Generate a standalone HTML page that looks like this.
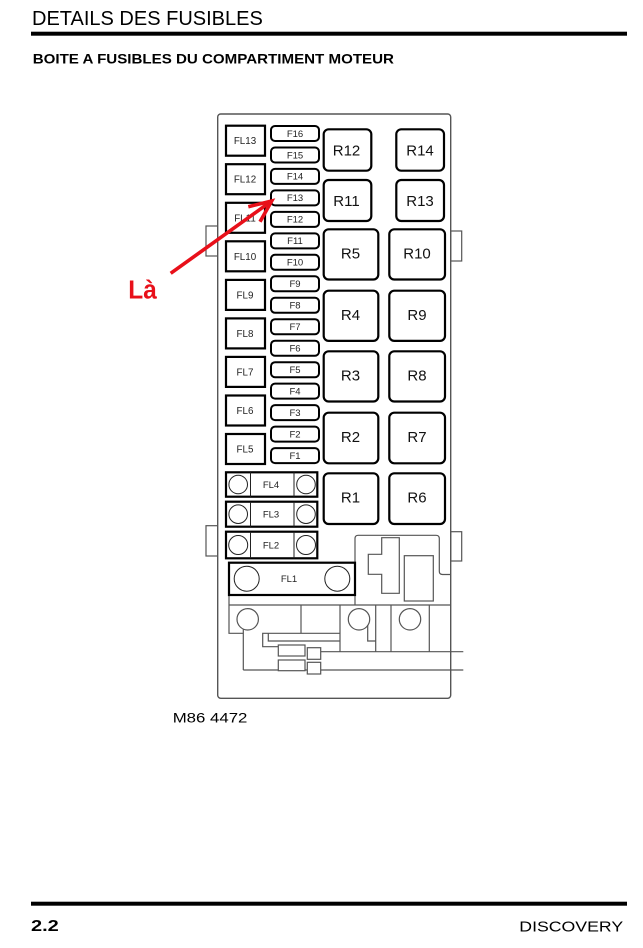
<!DOCTYPE html>
<html>
<head>
<meta charset="utf-8">
<style>
html,body{margin:0;padding:0;background:#fff;}
body{width:643px;height:948px;overflow:hidden;}
svg{display:block;}
text{font-family:"Liberation Sans",Arial,sans-serif;}
</style>
</head>
<body>
<svg width="643" height="948" viewBox="0 0 643 948" xmlns="http://www.w3.org/2000/svg">
<!-- Header -->
<text x="32" y="25" font-size="20" fill="#000">DETAILS DES FUSIBLES</text>
<rect x="31" y="31.7" width="596" height="4" fill="#000"/>
<text transform="translate(32.7,63.3) scale(1.08,1)" x="0" y="0" font-size="14" font-weight="bold" fill="#000">BOITE A FUSIBLES DU COMPARTIMENT MOTEUR</text>

<!-- Footer -->
<rect x="31" y="901.7" width="596" height="4" fill="#000"/>
<text transform="translate(31,931) scale(1.25,1)" x="0" y="0" font-size="16" font-weight="bold" fill="#000">2.2</text>
<text transform="translate(519.3,931.7) scale(1.18,1)" x="0" y="0" font-size="15" fill="#000">DISCOVERY</text>

<!-- Diagram caption -->
<text transform="translate(172.7,722.7) scale(1.2,1)" x="0" y="0" font-size="14" fill="#000">M86 4472</text>

<!-- Side tabs -->
<g fill="#fff" stroke="#555" stroke-width="1.2">
<rect x="206" y="226" width="11.7" height="30"/>
<rect x="206" y="525.7" width="11.7" height="30.3"/>
<rect x="450.7" y="231" width="11" height="30"/>
<rect x="450.7" y="531.7" width="11" height="29.3"/>
</g>

<!-- Outer box -->
<rect x="217.7" y="114" width="233" height="584.3" rx="3" fill="#fff" stroke="#555" stroke-width="1.4"/>

<!-- FL13..FL5 -->
<g fill="#fff" stroke="#000" stroke-width="2.2">
<rect x="226" y="125.7" width="39" height="30"/>
<rect x="226" y="164.2" width="39" height="30"/>
<rect x="226" y="202.8" width="39" height="30"/>
<rect x="226" y="241.3" width="39" height="30"/>
<rect x="226" y="279.9" width="39" height="30"/>
<rect x="226" y="318.4" width="39" height="30"/>
<rect x="226" y="356.9" width="39" height="30"/>
<rect x="226" y="395.5" width="39" height="30"/>
<rect x="226" y="434" width="39" height="30"/>
</g>
<g font-size="9.8" fill="#222" text-anchor="middle">
<text x="245" y="144.2">FL13</text>
<text x="245" y="182.7">FL12</text>
<text x="245" y="221.3">FL11</text>
<text x="245" y="259.8">FL10</text>
<text x="245" y="298.4">FL9</text>
<text x="245" y="336.9">FL8</text>
<text x="245" y="375.4">FL7</text>
<text x="245" y="414">FL6</text>
<text x="245" y="452.5">FL5</text>
</g>

<!-- F16..F1 -->
<g fill="#fff" stroke="#000" stroke-width="2">
<rect x="271" y="126" width="48" height="15" rx="4"/>
<rect x="271" y="147.5" width="48" height="15" rx="4"/>
<rect x="271" y="168.9" width="48" height="15" rx="4"/>
<rect x="271" y="190.4" width="48" height="15" rx="4"/>
<rect x="271" y="211.9" width="48" height="15" rx="4"/>
<rect x="271" y="233.4" width="48" height="15" rx="4"/>
<rect x="271" y="254.8" width="48" height="15" rx="4"/>
<rect x="271" y="276.3" width="48" height="15" rx="4"/>
<rect x="271" y="297.8" width="48" height="15" rx="4"/>
<rect x="271" y="319.2" width="48" height="15" rx="4"/>
<rect x="271" y="340.7" width="48" height="15" rx="4"/>
<rect x="271" y="362.2" width="48" height="15" rx="4"/>
<rect x="271" y="383.6" width="48" height="15" rx="4"/>
<rect x="271" y="405.1" width="48" height="15" rx="4"/>
<rect x="271" y="426.6" width="48" height="15" rx="4"/>
<rect x="271" y="448.1" width="48" height="15" rx="4"/>
</g>
<g font-size="9.5" fill="#222" text-anchor="middle">
<text x="295" y="136.8">F16</text>
<text x="295" y="158.3">F15</text>
<text x="295" y="179.7">F14</text>
<text x="295" y="201.2">F13</text>
<text x="295" y="222.7">F12</text>
<text x="295" y="244.2">F11</text>
<text x="295" y="265.6">F10</text>
<text x="295" y="287.1">F9</text>
<text x="295" y="308.6">F8</text>
<text x="295" y="330">F7</text>
<text x="295" y="351.5">F6</text>
<text x="295" y="373">F5</text>
<text x="295" y="394.4">F4</text>
<text x="295" y="415.9">F3</text>
<text x="295" y="437.4">F2</text>
<text x="295" y="458.9">F1</text>
</g>

<!-- Relays -->
<g fill="#fff" stroke="#000" stroke-width="2.2">
<rect x="323.7" y="129.3" width="47.6" height="41.4" rx="5"/>
<rect x="396.3" y="129.3" width="47.7" height="41.4" rx="5"/>
<rect x="323.7" y="180" width="47.6" height="41" rx="5"/>
<rect x="396.3" y="180" width="47.7" height="41" rx="5"/>
<rect x="323.7" y="229.3" width="54.6" height="50.2" rx="5"/>
<rect x="389.3" y="229.3" width="55.7" height="50.2" rx="5"/>
<rect x="323.7" y="290.7" width="54.6" height="50.2" rx="5"/>
<rect x="389.3" y="290.7" width="55.7" height="50.2" rx="5"/>
<rect x="323.7" y="351.3" width="54.6" height="50.2" rx="5"/>
<rect x="389.3" y="351.3" width="55.7" height="50.2" rx="5"/>
<rect x="323.7" y="412.7" width="54.6" height="50.6" rx="5"/>
<rect x="389.3" y="412.7" width="55.7" height="50.6" rx="5"/>
<rect x="323.7" y="473.3" width="54.6" height="50.7" rx="5"/>
<rect x="389.3" y="473.3" width="55.7" height="50.7" rx="5"/>
</g>
<g font-size="15" fill="#111" text-anchor="middle">
<text x="346.5" y="155.3">R12</text>
<text x="420" y="155.3">R14</text>
<text x="346.5" y="205.8">R11</text>
<text x="420" y="205.8">R13</text>
<text x="350.5" y="258.5">R5</text>
<text x="417" y="258.5">R10</text>
<text x="350.5" y="319.9">R4</text>
<text x="417" y="319.9">R9</text>
<text x="350.5" y="380.5">R3</text>
<text x="417" y="380.5">R8</text>
<text x="350.5" y="442">R2</text>
<text x="417" y="442">R7</text>
<text x="350.5" y="502.7">R1</text>
<text x="417" y="502.7">R6</text>
</g>

<!-- FL4, FL3, FL2 -->
<g fill="#fff" stroke="#000" stroke-width="2.2">
<rect x="226" y="472.3" width="91.3" height="24.4"/>
<rect x="226" y="501.7" width="91.3" height="25"/>
<rect x="226" y="531.7" width="91.3" height="26.6"/>
</g>
<g fill="none" stroke="#222" stroke-width="1">
<line x1="250.5" y1="472.3" x2="250.5" y2="496.7"/>
<line x1="294" y1="472.3" x2="294" y2="496.7"/>
<line x1="250.5" y1="501.7" x2="250.5" y2="526.7"/>
<line x1="294" y1="501.7" x2="294" y2="526.7"/>
<line x1="250.5" y1="531.7" x2="250.5" y2="558.3"/>
<line x1="294" y1="531.7" x2="294" y2="558.3"/>
<circle cx="238.2" cy="484.5" r="9.3"/>
<circle cx="306" cy="484.5" r="9.3"/>
<circle cx="238.2" cy="514.2" r="9.3"/>
<circle cx="306" cy="514.2" r="9.3"/>
<circle cx="238.2" cy="545" r="9.5"/>
<circle cx="306" cy="545" r="9.5"/>
</g>
<g font-size="9.5" fill="#222" text-anchor="middle">
<text x="271" y="488">FL4</text>
<text x="271" y="517.6">FL3</text>
<text x="271" y="548.6">FL2</text>
</g>

<!-- Lower gray structure -->
<g fill="none" stroke="#555" stroke-width="1.2">
<path d="M355,605 V538.5 Q355,535.3 358.2,535.3 H436 Q439.3,535.3 439.3,538.5 V571.3 Q439.3,574.5 442.5,574.5 H450.7"/>
<path d="M381.7,537.7 H399.3 V593.3 H381.7 V574.3 H368.3 V554.3 H381.7 Z"/>
<rect x="404.3" y="555.7" width="29" height="45.3"/>
<line x1="229" y1="605" x2="450.7" y2="605"/>
<path d="M229,595 V633.3 H243.3"/>
<path d="M243.3,629 V670"/>
<circle cx="247.7" cy="619.3" r="10.7"/>
<line x1="301" y1="605" x2="301" y2="633.3"/>
<path d="M340,633.3 H262.7 V646.7 H278.3"/>
<path d="M340,641 H268.3 V633.3"/>
<line x1="340" y1="605" x2="340" y2="651.7"/>
<circle cx="359" cy="619.3" r="10.7"/>
<path d="M367.7,625 V641 H375.7"/>
<line x1="375.7" y1="605" x2="375.7" y2="651.7"/>
<line x1="391" y1="605" x2="391" y2="651.7"/>
<circle cx="410" cy="619.3" r="10.7"/>
<line x1="429.3" y1="605" x2="429.3" y2="651.7"/>
<line x1="321" y1="651.7" x2="463.3" y2="651.7"/>
<line x1="243.3" y1="670" x2="463.3" y2="670"/>
</g>
<g fill="#fff" stroke="#555" stroke-width="1.2">
<rect x="278.3" y="645" width="26.7" height="11"/>
<rect x="307.3" y="647.7" width="13.4" height="11.6"/>
<rect x="278.3" y="660" width="26.7" height="10.7"/>
<rect x="307.3" y="662.3" width="13.4" height="11.7"/>
</g>

<!-- FL1 -->
<rect x="229" y="562.7" width="126" height="32.3" fill="#fff" stroke="#000" stroke-width="2.2"/>
<g fill="none" stroke="#222" stroke-width="1">
<circle cx="246.7" cy="578.7" r="12.5"/>
<circle cx="337.3" cy="578.7" r="12.5"/>
</g>
<text x="289" y="582.2" font-size="9.5" fill="#222" text-anchor="middle">FL1</text>

<!-- Red arrow and label -->
<g stroke="#e8101a" stroke-width="3.6" fill="none" stroke-linecap="butt" stroke-linejoin="miter">
<line x1="170.7" y1="273.3" x2="270" y2="202.2"/>
<polyline points="248.3,206.7 271.7,201 260,221.7"/>
</g>
<text transform="translate(128.3,298.3) scale(0.94,1)" x="0" y="0" font-size="26" font-weight="bold" fill="#e8101a">Là</text>
</svg>
</body>
</html>
